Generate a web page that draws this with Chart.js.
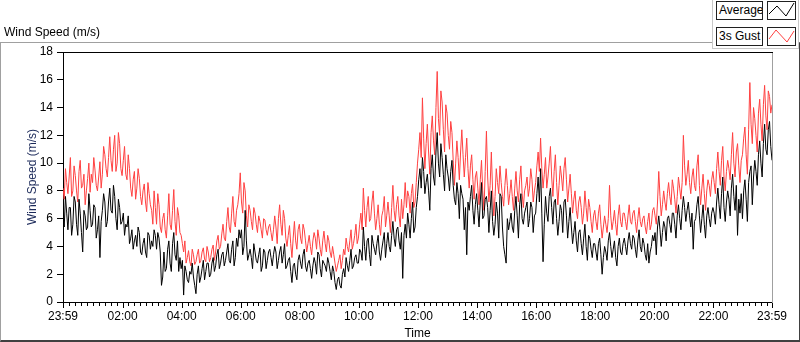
<!DOCTYPE html>
<html>
<head>
<meta charset="utf-8">
<script src="https://cdn.jsdelivr.net/npm/chart.js@4"></script>
<style>
  html, body { margin: 0; padding: 0; background: #fff; }
  #wrap { position: relative; width: 800px; height: 342px; overflow: hidden; font-family: "Liberation Sans", Arial, sans-serif; font-size: 12px; color: #000; }
  #panel { position: absolute; left: 0; top: 42px; width: 800px; height: 300px; box-sizing: border-box;
           border-left: 1px solid #a0a0a0; border-top: 1px solid #a0a0a0; border-right: 1px solid #404040; border-bottom: 2px solid #404040; }
  #chart { position: absolute; left: 0; top: 0; }
  #title { position: absolute; left: 4px; top: 25px; line-height: 14px; white-space: nowrap; }
  #legend { position: absolute; left: 712px; top: 0; width: 87px; height: 49px; background: #fff; box-sizing: border-box;
            border-left: 1px solid #c8c8c8; border-right: 1px solid #c8c8c8; border-bottom: 1px solid #c8c8c8; }
  .ltext { position: absolute; width: 47px; height: 19px; box-sizing: border-box; border: 1px solid #202020; background: #fff;
           line-height: 17px; padding-left: 2px; white-space: nowrap; overflow: hidden; }
  .licon { position: absolute; width: 29px; height: 19px; box-sizing: border-box; border: 1px solid #202020; background: #fff; }
  .licon svg { position: absolute; left: 0; top: 0; }
</style>
</head>
<body>
<div id="wrap">
  <div id="panel"></div>
  <canvas id="chart" width="800" height="342"></canvas>
  <div id="title">Wind Speed (m/s)</div>
  <div id="legend"></div>
  <div class="ltext" style="left:716px;top:1px;">Average</div>
  <div class="licon" style="left:767px;top:1px;"><svg width="27" height="17"><polyline points="1,12 9,4 18,14 26,1" fill="none" stroke="#000" stroke-width="1"/></svg></div>
  <div class="ltext" style="left:716px;top:27px;">3s Gust</div>
  <div class="licon" style="left:767px;top:27px;"><svg width="27" height="17"><polyline points="1,11 8,2 19,14 26,3" fill="none" stroke="#ff4040" stroke-width="1"/></svg></div>
</div>
<script>
// ---- data: samples every 2.5 minutes from 23:59 to 23:59 next day, m/s ----
const sampleStepMinutes = 2.5;

const average = [
  6.2,5.4,7.6,6.4,5.2,6.8,6.8,4.8,5.6,7.6,7.2,5.6,4.8,7.4,6.4,5.0,3.6,6.6,6.2,5.2,5.4,7.8,6.6,5.4,
  5.6,7.0,6.8,4.6,5.2,6.2,3.2,5.8,6.6,7.8,7.2,5.4,5.8,7.2,8.2,6.6,6.4,8.4,7.6,6.0,5.2,7.4,6.8,5.6,
  5.8,6.4,4.8,5.6,5.4,6.2,4.2,4.6,5.2,3.8,4.4,4.8,4.0,5.4,5.0,3.6,3.4,4.2,4.6,3.6,3.2,5.0,4.8,3.8,
  4.4,4.0,5.2,4.8,3.8,5.0,4.6,3.6,1.2,1.8,3.6,2.2,2.4,3.8,4.4,2.8,2.2,4.2,5.0,3.4,3.0,4.4,2.2,3.2,
  2.4,3.0,0.5,2.6,2.2,1.6,1.4,2.2,2.0,2.8,1.8,1.2,0.6,2.0,2.6,1.4,1.8,2.4,3.0,1.6,2.2,2.8,2.8,1.8,
  2.0,2.8,3.2,2.2,2.6,3.4,3.8,2.4,2.8,3.4,3.6,2.6,3.0,3.6,4.2,3.0,2.8,3.8,4.4,2.6,3.2,4.6,4.0,5.2,
  4.6,5.2,3.4,4.0,6.6,4.4,3.0,3.4,3.8,3.2,2.4,4.2,3.6,3.0,2.8,3.4,3.9,2.2,2.6,3.8,3.6,2.4,3.0,3.6,
  3.8,3.2,2.6,3.4,4.0,3.6,2.4,3.0,3.6,4.0,2.8,3.4,4.2,2.4,2.6,3.0,3.2,2.2,1.4,2.6,2.8,2.0,1.6,3.0,
  3.4,2.8,2.4,3.4,3.8,2.6,2.2,2.8,3.0,2.4,1.7,2.6,3.2,2.8,2.0,3.6,3.4,2.4,1.8,3.0,2.8,2.6,2.2,3.2,
  2.8,2.2,1.6,2.6,2.2,1.4,0.9,1.6,1.8,1.2,1.0,2.0,2.4,1.8,3.2,2.6,2.2,3.0,3.8,2.4,2.6,3.2,3.4,2.8,
  2.8,3.8,3.6,3.0,5.4,4.0,3.0,4.4,4.6,3.4,2.6,4.8,4.2,3.8,3.4,4.2,4.8,3.6,3.0,3.8,4.4,5.0,3.2,4.2,
  5.0,4.0,3.6,4.8,5.8,4.6,4.0,5.2,5.4,4.4,3.8,5.0,1.7,4.8,5.6,4.6,6.4,5.6,4.6,6.0,7.2,5.0,5.4,6.8,
  7.6,8.8,9.6,8.2,10.4,9.4,7.8,8.6,9.2,8.0,6.6,9.6,10.6,9.0,8.4,10.8,12.2,10.0,9.0,11.4,10.4,9.2,8.0,10.6,
  9.6,9.0,8.0,9.4,10.2,8.4,7.4,7.0,8.6,7.8,6.0,8.4,7.8,7.4,5.2,6.8,3.4,7.2,6.6,7.6,8.4,6.6,5.6,7.0,
  7.8,6.6,5.4,7.2,8.6,6.0,6.2,7.4,7.6,6.8,5.0,6.6,8.0,5.8,4.8,5.6,7.2,6.4,4.6,7.8,7.6,5.4,4.0,3.4,
  2.8,6.0,5.2,5.8,6.4,5.4,5.0,6.6,7.6,6.2,4.6,7.0,7.8,6.0,5.6,6.4,6.8,7.2,5.4,6.0,7.2,6.8,5.0,6.2,
  6.4,7.8,9.0,7.2,9.6,6.4,2.9,5.6,7.6,6.4,5.8,7.6,8.2,6.8,5.6,7.2,7.4,6.0,4.8,5.8,7.0,6.6,5.0,7.2,
  7.4,6.2,4.6,5.8,6.8,5.4,4.2,5.0,5.8,4.4,3.6,5.0,5.2,4.2,3.4,4.6,5.6,4.0,3.0,4.8,4.6,3.8,3.2,4.2,
  4.2,3.6,3.0,4.2,4.6,3.4,2.0,3.2,4.0,3.6,3.0,4.4,5.0,4.0,3.2,3.8,4.4,3.2,2.6,4.0,4.6,3.6,3.4,4.2,
  4.6,4.0,3.4,4.4,5.0,4.2,3.8,4.8,4.6,3.8,3.2,4.4,5.2,4.0,3.6,4.6,4.2,3.4,3.0,4.2,2.8,3.6,4.0,4.8,
  4.4,5.0,3.4,5.4,6.2,5.2,4.0,5.0,5.8,5.4,4.4,6.0,6.2,5.6,5.0,6.4,6.4,5.6,4.6,6.2,7.0,6.0,5.2,6.6,
  7.6,6.8,5.8,6.6,7.2,6.2,5.4,6.4,3.8,5.8,6.0,7.0,7.6,6.2,5.0,6.0,7.0,5.6,4.6,6.2,6.8,6.0,5.4,6.4,
  6.8,6.4,5.6,7.2,8.2,7.0,6.0,7.8,9.0,6.8,5.8,7.2,8.0,7.4,6.2,8.2,9.2,7.6,6.6,8.4,4.8,7.4,6.4,7.8,
  6.0,8.0,8.8,7.4,5.8,8.6,9.4,9.8,7.0,9.0,10.2,9.4,8.4,10.6,11.6,10.0,9.0,11.4,12.8,11.0,10.6,12.4,13.0,11.2,10.2
];

const gust = [
  8.2,7.4,9.6,8.6,7.8,9.0,10.4,7.6,8.0,9.8,9.1,8.0,7.2,9.4,10.2,8.2,8.4,9.2,7.0,8.0,8.9,10.0,7.9,9.2,
  8.6,10.4,9.5,8.4,8.0,9.0,10.1,8.2,9.2,11.2,10.6,9.6,9.0,10.4,11.9,10.2,9.4,11.0,12.0,9.4,10.0,12.2,11.4,9.6,
  9.1,10.2,11.2,9.2,8.8,10.6,9.6,8.2,7.6,8.8,9.4,7.4,8.2,9.6,8.9,7.6,7.0,8.0,8.5,7.2,6.5,8.6,7.8,7.0,
  6.6,5.6,8.0,6.8,5.6,7.8,7.0,5.4,5.0,6.0,6.4,5.2,4.6,6.2,7.8,5.6,5.2,6.6,8.1,5.8,4.8,6.8,6.2,5.0,
  4.8,4.2,3.6,4.4,2.8,3.2,3.7,2.9,2.6,3.8,3.4,2.7,2.9,3.4,3.8,2.8,3.0,3.6,3.9,3.1,2.9,4.0,3.6,2.9,
  3.2,3.8,4.1,3.0,3.6,4.4,4.8,3.8,4.0,4.9,5.6,4.6,4.4,5.8,6.8,5.4,5.0,6.4,7.6,5.8,5.4,6.6,7.0,7.8,
  9.3,7.2,6.4,8.6,8.0,6.2,5.4,7.0,6.6,5.8,5.2,6.8,6.4,5.6,5.0,6.2,5.8,5.2,4.6,6.0,5.9,5.2,4.8,5.4,
  5.6,5.0,4.4,5.2,6.2,5.4,4.2,6.0,7.0,5.6,4.8,6.6,6.0,4.6,4.0,4.8,5.5,4.2,3.2,4.6,5.8,4.4,3.8,5.2,
  5.6,4.6,4.2,5.6,5.2,4.4,3.6,4.2,4.8,4.0,3.4,4.4,5.0,4.6,3.8,5.2,4.6,3.8,3.3,4.4,5.1,4.2,3.6,4.8,
  4.4,3.6,3.2,4.0,3.4,2.8,2.2,2.6,3.0,3.4,2.4,3.0,3.8,3.4,4.6,4.0,3.6,4.4,5.2,3.8,4.2,4.8,5.6,4.2,
  4.6,5.6,6.4,5.2,8.2,6.6,5.4,6.8,7.6,5.8,6.0,7.2,8.0,6.4,5.2,6.0,7.0,5.6,4.8,6.2,6.6,7.6,5.4,6.2,
  7.2,6.2,5.0,6.8,8.4,6.6,5.8,7.0,7.6,6.2,5.4,7.4,6.0,7.0,8.6,6.8,8.0,7.6,6.4,7.8,8.5,6.8,7.2,8.6,
  10.0,11.0,12.2,10.4,14.7,11.8,9.6,11.4,12.8,10.8,9.2,12.2,13.4,11.6,10.6,14.0,16.6,13.2,12.0,15.2,14.4,12.4,10.8,14.2,
  13.6,12.0,11.0,13.0,12.2,10.2,8.4,10.0,11.6,10.4,8.8,10.8,12.4,10.6,9.0,10.4,11.8,9.6,8.2,9.8,10.6,8.8,7.4,9.0,
  9.4,8.2,7.0,8.8,10.2,8.0,6.6,9.4,12.3,9.0,7.2,8.4,10.8,8.0,6.2,7.6,9.6,8.6,7.8,9.8,8.6,7.6,6.9,8.4,
  9.6,8.4,7.0,7.8,8.8,7.6,6.6,8.2,9.4,8.0,7.2,8.8,9.8,7.8,6.8,8.0,8.4,9.0,7.6,8.2,9.6,8.8,7.2,8.0,
  8.6,9.8,10.8,9.4,11.8,9.6,8.2,9.2,10.4,8.2,9.0,10.0,11.2,9.0,7.6,9.4,10.6,8.6,7.0,8.4,9.8,9.0,8.0,9.6,
  10.4,8.8,7.2,8.2,9.2,7.8,6.4,7.4,8.0,6.6,6.0,7.2,7.6,6.8,5.6,6.4,8.0,6.8,5.8,7.4,6.8,5.8,5.0,6.2,
  6.6,5.8,5.2,6.4,7.0,5.6,4.6,5.4,6.2,5.6,5.0,6.0,8.4,6.2,5.2,5.8,6.6,5.6,4.8,6.2,7.0,5.8,5.4,6.4,
  6.4,5.8,5.2,6.2,7.0,5.8,5.6,6.4,6.6,5.8,5.0,6.0,6.8,5.8,5.4,6.0,6.2,5.4,4.9,5.8,6.4,5.2,5.6,6.6,
  6.8,6.2,5.6,7.2,9.4,7.6,6.2,7.0,8.0,7.2,6.6,7.8,8.6,7.6,7.0,8.8,8.2,7.4,6.4,7.6,9.0,8.2,7.4,8.6,
  12.0,9.8,8.4,9.2,10.2,8.6,7.8,9.0,9.6,8.4,8.0,9.8,10.6,8.4,7.0,8.2,9.2,7.8,6.6,8.0,8.8,8.4,7.6,8.8,
  9.4,8.6,7.8,9.6,10.8,9.4,8.4,10.2,11.2,9.0,8.0,9.4,10.2,9.6,8.8,10.6,12.2,10.0,9.0,10.8,11.4,9.8,8.6,10.2,
  10.6,11.8,12.6,10.6,9.2,12.4,15.8,12.8,11.4,14.0,13.2,12.0,10.8,13.6,14.6,12.8,11.6,14.2,15.6,13.4,12.4,15.2,14.8,13.6,14.2
];

// x-axis ticks: minutes after the 23:59 start
const tickMinutes = [0, 121, 241, 361, 481, 601, 721, 841, 961, 1081, 1201, 1321, 1440];
const tickLabels  = ['23:59', '02:00', '04:00', '06:00', '08:00', '10:00', '12:00', '14:00', '16:00', '18:00', '20:00', '22:00', '23:59'];
const minorTickStep = 12;      // minutes between minor ticks (clock aligned)
const yTicks = [0, 2, 4, 6, 8, 10, 12, 14, 16, 18];

const seriesNames = ['Average', '3s Gust'];
const seriesColors = ['#000000', '#ff4040'];

// ---- build ----
const toPoints = arr => arr.map((v, i) => ({ x: i * sampleStepMinutes, y: v }));

const minorTicks = [];
for (let m = 1; m < 1440; m += minorTickStep) minorTicks.push(m);
const allTicks = Array.from(new Set([...tickMinutes, ...minorTicks])).sort((a, b) => a - b);

const labelFor = v => {
  const i = tickMinutes.indexOf(v);
  return i >= 0 ? tickLabels[i] : '';
};

const framePlugin = {
  id: 'frame',
  afterDraw(chart) {
    const { ctx, chartArea: { left, right, top, bottom }, scales: { x } } = chart;
    ctx.save();
    ctx.lineWidth = 1;
    ctx.strokeStyle = '#000';
    ctx.beginPath();
    ctx.moveTo(left, top + 0.5); ctx.lineTo(right + 1, top + 0.5);
    ctx.stroke();
    ctx.strokeStyle = '#a0a0a0';
    ctx.beginPath();
    ctx.moveTo(right + 0.5, top + 1); ctx.lineTo(right + 0.5, bottom + 1);
    ctx.stroke();
    ctx.strokeStyle = '#000';
    allTicks.forEach(v => {
      const px = Math.round(x.getPixelForValue(v)) + 0.5;
      const len = tickMinutes.includes(v) ? 5 : 3;
      ctx.beginPath();
      ctx.moveTo(px, bottom + 1);
      ctx.lineTo(px, bottom + 1 + len);
      ctx.stroke();
    });
    ctx.restore();
  }
};

Chart.defaults.font.family = '"Liberation Sans", Arial, sans-serif';
Chart.defaults.font.size = 12;
Chart.defaults.color = '#000';

new Chart(document.getElementById('chart'), {
  type: 'line',
  data: {
    datasets: [
      { label: seriesNames[0], data: toPoints(average), borderColor: seriesColors[0], borderWidth: 1, pointRadius: 0, tension: 0, fill: false },
      { label: seriesNames[1], data: toPoints(gust), borderColor: seriesColors[1], borderWidth: 1, pointRadius: 0, tension: 0, fill: false }
    ]
  },
  options: {
    responsive: false,
    animation: false,
    devicePixelRatio: 1,
    events: [],
    layout: { padding: { left: 0, top: 52, right: 28, bottom: 0 } },
    plugins: { legend: { display: false }, tooltip: { enabled: false }, title: { display: false } },
    scales: {
      x: {
        type: 'linear',
        min: 0, max: 1440,
        afterBuildTicks: scale => { scale.ticks = allTicks.map(v => ({ value: v })); },
        afterFit: scale => { scale.height = 40; },
        ticks: { autoSkip: false, maxRotation: 0, padding: 7, callback: v => labelFor(v), color: '#000', font: { size: 12 } },
        grid: { drawOnChartArea: false, drawTicks: false },
        border: { display: true, color: '#000', width: 1 },
        title: { display: true, text: 'Time', color: '#000', font: { size: 12 }, padding: { top: 0, bottom: 1 } }
      },
      y: {
        min: 0, max: 18,
        afterBuildTicks: scale => { scale.ticks = yTicks.map(v => ({ value: v })); },
        afterFit: scale => { scale.width = 63; },
        ticks: { padding: 4, color: '#000', font: { size: 12 } },
        grid: { drawOnChartArea: false, drawTicks: true, tickLength: 6, tickColor: '#000' },
        border: { display: true, color: '#000', width: 1 },
        title: { display: true, text: 'Wind Speed (m/s)', color: '#1c2a5a', font: { size: 12 }, padding: { top: 25, bottom: 0 } }
      }
    }
  },
  plugins: [framePlugin]
});
</script>
</body>
</html>
